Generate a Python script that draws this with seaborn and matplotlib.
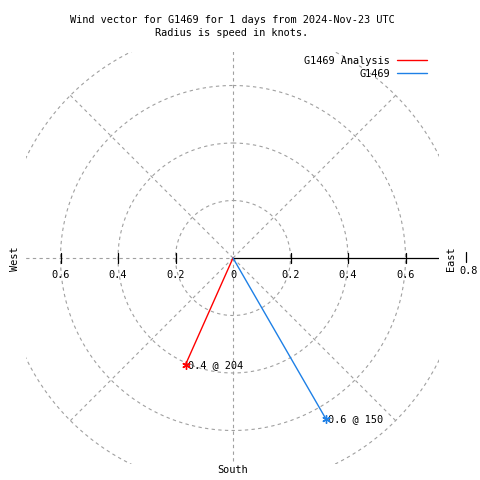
import numpy as np
import matplotlib
matplotlib.use("Agg")
import matplotlib.pyplot as plt
import seaborn as sns

# Data
series = ["G1469 Analysis", "G1469"]
directions = [204, 150]      # degrees, clockwise from north
speeds = [0.406, 0.648]      # knots
colors = ["#ff0000", "#1e80e6"]
title_lines = ["Wind vector for G1469 for 1 days from 2024-Nov-23 UTC",
               "Radius is speed in knots."]
rings = [0.2, 0.4, 0.6, 0.8]
spokes = [45, 135, 225, 315]
tick_vals = [0.2, 0.4, 0.6]

sns.set_style("white")
plt.rcParams["font.family"] = ["DejaVu Sans Mono"]
plt.rcParams["font.size"] = 7.4
plt.rcParams["text.color"] = "black"

W = 480
fig = plt.figure(figsize=(4.8, 4.8), dpi=100)
ax = fig.add_axes([26 / W, 16 / W, 413 / W, 412 / W])
scale = 287.5  # pixels per knot
ax.set_xlim(-207 / scale, 206 / scale)
ax.set_ylim(-206 / scale, 206 / scale)
ax.set_axis_off()

# ------------------------------------
# Polar grid
# ------------------------------------
grid_kw = dict(color="#a0a0a0", lw=0.8, ls=(0, (3, 3)), zorder=1)
t = np.linspace(0, 2 * np.pi, 500)
for r in rings:
    ax.plot(r * np.sin(t), r * np.cos(t), **grid_kw)
for a in spokes:
    a = np.deg2rad(a)
    ax.plot([0, 0.8 * np.sin(a)], [0, 0.8 * np.cos(a)], **grid_kw)
ax.plot([-1, 0], [0, 0], **grid_kw)
ax.plot([0, 0], [-1, 1], **grid_kw)
ax.plot([0, 1], [0, 0], color="black", lw=0.9, zorder=2)

# ticks + labels
for v in tick_vals:
    for s in (-1, 1):
        ax.plot([s * v, s * v], [-0.016, 0.016], color="black", lw=0.9, zorder=2)
    ax.text(-v, -0.06, f"{v:.1f}", ha="center", va="center")
    ax.text(v, -0.06, f"{v:.1f}", ha="center", va="center")
ax.text(0, -0.06, "0", ha="center", va="center")
ax.plot([0.81, 0.81], [0.02, -0.013], color="black", lw=0.9, clip_on=False)
ax.text(0.82, -0.045, "0.8", ha="center", va="center")

# ------------------------------------
# Wind vectors
# ------------------------------------
for name, d, s, c in zip(series, directions, speeds, colors):
    th = np.deg2rad(d)
    x, y = s * np.sin(th), s * np.cos(th)
    sns.lineplot(x=[0, x], y=[0, y], sort=False, estimator=None,
                 color=c, lw=1, ax=ax, label=name, zorder=3)
    ax.plot([x], [y], marker=(6, 2, 0), ms=6, mew=1, color=c, zorder=4)
    ax.annotate(f"{s:.1f} @ {d}", (x, y), xytext=(2, 0),
                textcoords="offset pixels", ha="left", va="center")

ax.legend(loc="upper right", bbox_to_anchor=(427 / W, 1 - 56 / W),
          bbox_transform=fig.transFigure, markerfirst=False, frameon=False,
          borderpad=0, borderaxespad=0, handlelength=2.9,
          handletextpad=0.7, labelspacing=0.3)

# ------------------------------------
# Titles and compass labels
# ------------------------------------
fig.text(232 / W, 1 - 20 / W, title_lines[0], ha="center", va="center")
fig.text(232 / W, 1 - 33 / W, title_lines[1], ha="center", va="center")
fig.text(15 / W, 1 - 259 / W, "West", rotation=90, ha="center", va="center")
fig.text(451 / W, 1 - 259 / W, "East", rotation=90, ha="center", va="center")
fig.text(233 / W, 1 - 470 / W, "South", ha="center", va="center")

fig.savefig("out.png", dpi=100)
